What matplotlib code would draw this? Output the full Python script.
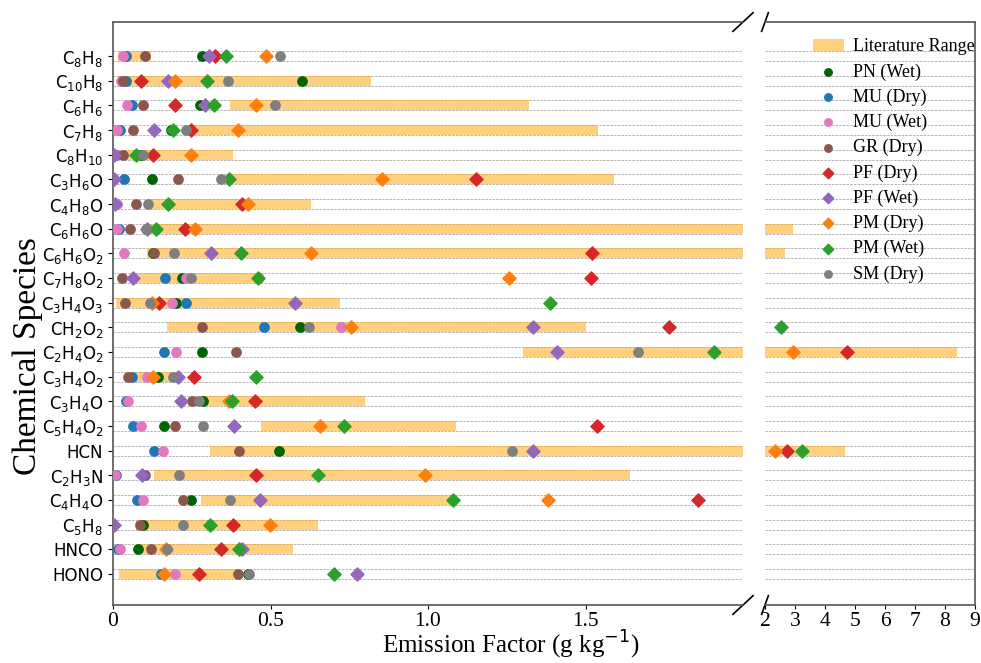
import numpy as np
import matplotlib
matplotlib.use('Agg')
import matplotlib.pyplot as plt

nan = np.nan

species = ['C$_8$H$_8$', 'C$_{10}$H$_8$', 'C$_6$H$_6$', 'C$_7$H$_8$', 'C$_8$H$_{10}$',
           'C$_3$H$_6$O', 'C$_4$H$_8$O', 'C$_6$H$_6$O', 'C$_6$H$_6$O$_2$', 'C$_7$H$_8$O$_2$',
           'C$_3$H$_4$O$_3$', 'CH$_2$O$_2$', 'C$_2$H$_4$O$_2$', 'C$_3$H$_4$O$_2$', 'C$_3$H$_4$O',
           'C$_5$H$_4$O$_2$', 'HCN', 'C$_2$H$_3$N', 'C$_4$H$_4$O', 'C$_5$H$_8$', 'HNCO', 'HONO']

# literature range (low, high), g/kg
lit_low = [0.017, 0.016, 0.37, 0.244, 0.005, 0.379, 0.109, 0.12, 0.109, 0.061, 0.01,
           0.17, 1.30, 0.038, 0.26, 0.47, 0.308, 0.13, 0.279, 0.074, 0.08, 0.02]
lit_high = [0.12, 0.819, 1.32, 1.54, 0.38, 1.59, 0.63, 2.95, 2.67, 0.479, 0.72,
            1.50, 8.41, 0.22, 0.80, 1.09, 4.68, 1.64, 1.075, 0.651, 0.57, 0.407]

pn_wet = [0.284, 0.601, 0.275, 0.183, 0.09, 0.125, nan, nan, 0.127, 0.218, 0.199,
          0.594, 0.283, 0.143, 0.287, 0.163, 0.528, nan, 0.249, 0.095, 0.079, 0.427]
mu_dry = [0.04, 0.04, 0.061, 0.021, 0.01, 0.035, 0.01, 0.02, nan, 0.165, 0.233,
          0.478, 0.163, 0.061, 0.04, 0.063, 0.131, 0.01, 0.077, nan, 0.016, 0.153]
mu_wet = [0.033, 0.025, 0.043, 0.014, 0.006, nan, 0.012, 0.012, 0.035, 0.231, 0.188,
          0.723, 0.199, 0.109, 0.046, 0.089, 0.158, 0.006, 0.095, nan, 0.022, 0.197]
gr_dry = [0.103, 0.032, 0.096, 0.063, 0.032, 0.205, 0.074, 0.053, 0.13, 0.028, 0.039,
          0.284, 0.39, 0.049, 0.25, 0.197, 0.399, 0.102, 0.222, 0.086, 0.121, 0.397]
pf_dry = [0.324, 0.088, 0.196, 0.247, 0.128, 1.151, 0.408, 0.23, 1.52, 1.517, 0.146,
          1.766, 4.73, 0.258, 0.451, 1.538, 2.74, 0.455, 1.856, 0.38, 0.342, 0.272]
pf_wet = [0.305, 0.175, 0.292, 0.13, 0.003, 0.003, 0.006, 0.107, 0.31, 0.063, 0.577,
          1.333, 1.408, 0.207, 0.215, 0.384, 1.333, 0.093, 0.466, 0.003, 0.41, 0.776]
pm_dry = [0.487, 0.196, 0.454, 0.398, 0.248, 0.855, 0.427, 0.259, 0.627, 1.257, 0.123,
          0.755, 2.94, 0.127, 0.368, 0.657, 2.34, 0.99, 1.38, 0.497, 0.167, 0.163]
pm_wet = [0.36, 0.297, 0.321, 0.191, 0.072, 0.368, 0.176, 0.138, 0.405, 0.459, 1.387,
          2.53, 1.909, 0.453, 0.377, 0.734, 3.22, 0.65, 1.08, 0.309, 0.401, 0.70]
sm_dry = [0.529, 0.365, 0.513, 0.231, 0.094, 0.342, 0.112, 0.104, 0.194, 0.247, 0.116,
          0.621, 1.666, 0.191, 0.273, 0.285, 1.266, 0.208, 0.37, 0.223, 0.17, 0.432]

series = [
    ('PN (Wet)', pn_wet, 'darkgreen', 'o'),
    ('MU (Dry)', mu_dry, 'tab:blue', 'o'),
    ('MU (Wet)', mu_wet, 'tab:pink', 'o'),
    ('GR (Dry)', gr_dry, 'tab:brown', 'o'),
    ('PF (Dry)', pf_dry, 'tab:red', 'D'),
    ('PF (Wet)', pf_wet, 'tab:purple', 'D'),
    ('PM (Dry)', pm_dry, 'tab:orange', 'D'),
    ('PM (Wet)', pm_wet, 'tab:green', 'D'),
    ('SM (Dry)', sm_dry, 'tab:gray', 'o'),
]

serif = 'Liberation Serif'
plt.rcParams['mathtext.fontset'] = 'dejavusans'

fig = plt.figure(figsize=(9.81, 6.63), dpi=100)
ax1 = fig.add_axes([0.1152, 0.0875, 0.6422, 0.8793])
ax2 = fig.add_axes([0.7798, 0.0875, 0.2141, 0.8793])

y = np.arange(len(species))
lo = np.array(lit_low)
hi = np.array(lit_high)
brk = 2.0

handles = []
for ax, side in ((ax1, 'left'), (ax2, 'right')):
    for yy in y:
        ax.axhline(yy - 0.2, color='#999999', ls='--', lw=0.5, zorder=0)
        ax.axhline(yy + 0.2, color='#999999', ls='--', lw=0.5, zorder=0)
    bars = ax.barh(y, hi - lo, left=lo, height=0.4, color='orange', alpha=0.5,
                   label='Literature Range', zorder=1)
    hs = [bars]
    for name, vals, c, m in series:
        v = np.array(vals, dtype=float)
        keep = v < brk if side == 'left' else v >= brk
        h = ax.scatter(v[keep], y[keep], color=c, marker=m, s=45, label=name, zorder=3)
        hs.append(h)
    handles = hs

ax1.set_xlim(0, brk)
ax2.set_xlim(brk, 9)
for ax in (ax1, ax2):
    ax.set_ylim(22.26, -1.38)

ax1.set_yticks(y)
ax1.set_yticklabels(species, fontsize=12)
ax1.set_xticks([0, 0.5, 1.0, 1.5])
ax1.set_xticklabels(['0', '0.5', '1.0', '1.5'], fontsize=15.5, family=serif)
ax2.set_xticks(range(2, 10))
ax2.set_xticklabels([str(i) for i in range(2, 10)], fontsize=15.5, family=serif)
ax2.set_yticks([])

ax1.spines['right'].set_visible(False)
ax2.spines['left'].set_visible(False)
for ax in (ax1, ax2):
    for s in ax.spines.values():
        s.set_color('#555555')
        s.set_linewidth(1.2)
    ax.tick_params(axis='x', pad=2, length=3)

# break marks
d = 0.016
kw = dict(color='k', clip_on=False, lw=1.2)
ax1.plot((1 - d, 1 + d), (-d, +d), transform=ax1.transAxes, **kw)
ax1.plot((1 - d, 1 + d), (1 - d, 1 + d), transform=ax1.transAxes, **kw)
ax2.plot((-d, +d), (-d, +d), transform=ax2.transAxes, **kw)
ax2.plot((-d, +d), (1 - d, 1 + d), transform=ax2.transAxes, **kw)

fig.text(0.521, 0.003, 'Emission Factor (g kg$^{-1}$)', ha='center', va='bottom',
         fontsize=18, family=serif)
fig.text(0.028, 0.463, 'Chemical Species', rotation=90, ha='center', va='center',
         fontsize=24, family=serif)

ax2.legend(handles, [h.get_label() for h in handles], loc='upper right',
           bbox_to_anchor=(1.0, 0.972), frameon=False,
           prop={'family': serif, 'size': 13}, borderaxespad=0.0,
           borderpad=0.0, handlelength=1.75, labelspacing=0.44, markerscale=0.8,
           handletextpad=0.5)

fig.savefig('out.png', dpi=100)
